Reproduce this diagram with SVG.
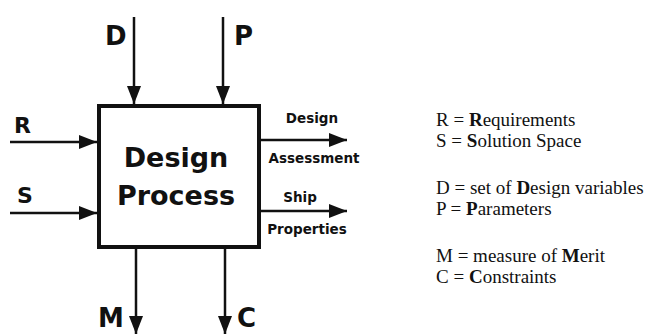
<svg xmlns="http://www.w3.org/2000/svg" width="650" height="334" viewBox="0 0 650 334">
<style>
.lbl{font-family:"DejaVu Sans","Liberation Sans",sans-serif;font-weight:bold;fill:#111}
.big{font-size:26px}
.sm{font-size:13.5px}
.ttl{font-size:27px;text-anchor:middle}
.leg{font-family:"Liberation Serif","Times New Roman",serif;font-size:19px;fill:#111}
.b{font-weight:bold}
.ln{stroke:#111;stroke-width:2.5;fill:none}
</style>
<defs>
<marker id="ah" markerWidth="18" markerHeight="14" refX="18" refY="7" orient="auto" markerUnits="userSpaceOnUse">
<path d="M0,0 L18,7 L0,14 Z" fill="#111"/>
</marker>
</defs>
<rect width="650" height="334" fill="#fff"/>
<g id="process">
<rect x="99" y="106" width="160" height="141" fill="#fff" stroke="#111" stroke-width="4"/>
<text class="lbl ttl" x="176" y="167">Design</text>
<text class="lbl ttl" x="176" y="205">Process</text>
</g>
<g id="connectors">
<line class="ln" x1="134" y1="17" x2="134" y2="104" marker-end="url(#ah)"/>
<line class="ln" x1="223" y1="17" x2="223" y2="104" marker-end="url(#ah)"/>
<line class="ln" x1="10" y1="142" x2="97" y2="142" marker-end="url(#ah)"/>
<line class="ln" x1="10" y1="213" x2="97" y2="213" marker-end="url(#ah)"/>
<line class="ln" x1="261" y1="140" x2="347" y2="140" marker-end="url(#ah)"/>
<line class="ln" x1="261" y1="211" x2="347" y2="211" marker-end="url(#ah)"/>
<line class="ln" x1="136" y1="249" x2="136" y2="334" marker-end="url(#ah)"/>
<line class="ln" x1="225" y1="249" x2="225" y2="334" marker-end="url(#ah)"/>
</g>
<g id="labels">
<text class="lbl big" x="105" y="45">D</text>
<text class="lbl big" x="234" y="45">P</text>
<text class="lbl" style="font-size:22px" x="14" y="133">R</text>
<text class="lbl" style="font-size:22px" x="17" y="203">S</text>
<text class="lbl big" x="98" y="327">M</text>
<text class="lbl big" x="237" y="327">C</text>
<text class="lbl sm" x="312" y="123" text-anchor="middle">Design</text>
<text class="lbl sm" x="314" y="163" text-anchor="middle">Assessment</text>
<text class="lbl sm" x="300" y="202" text-anchor="middle">Ship</text>
<text class="lbl sm" x="307" y="234" text-anchor="middle">Properties</text>
</g>
<g id="legend" class="leg">
<text x="436" y="126">R = <tspan class="b">R</tspan>equirements</text>
<text x="436" y="147">S = <tspan class="b">S</tspan>olution Space</text>
<text x="436" y="194">D = set of <tspan class="b">D</tspan>esign variables</text>
<text x="436" y="215">P = <tspan class="b">P</tspan>arameters</text>
<text x="436" y="262">M = measure of <tspan class="b">M</tspan>erit</text>
<text x="436" y="283">C = <tspan class="b">C</tspan>onstraints</text>
</g>
</svg>
